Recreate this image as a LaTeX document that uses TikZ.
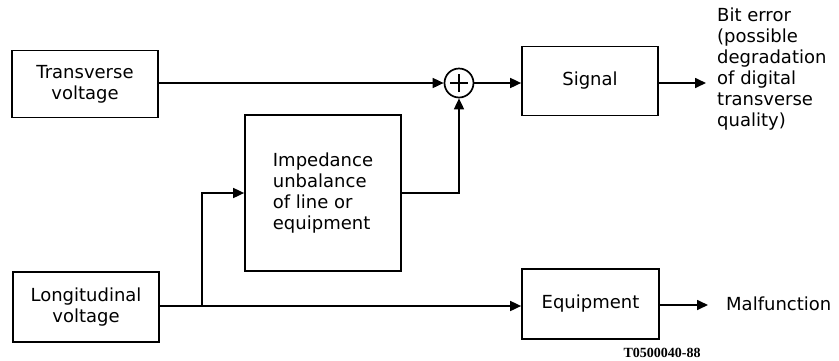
\documentclass[tikz,border=0pt]{standalone}
\usepackage{fontspec}
\setmainfont{DejaVu Sans}
\newfontfamily\labfont{Liberation Serif}
\usetikzlibrary{arrows.meta}
\begin{document}
\begin{tikzpicture}[x=1pt,y=-1pt,
  every node/.style={font=\fontsize{18}{21}\selectfont},
  blk/.style={draw,line width=1.7pt,inner sep=0pt,align=center},
  conn/.style={line width=1.7pt,-{Triangle[length=11pt,width=10pt]}},
  plain/.style={line width=1.7pt}]
\useasboundingbox (0,0) rectangle (839,360);
\node[blk,minimum width=146pt,minimum height=67pt] (tv) at (85,84) {Transverse\\voltage};
\node[blk,minimum width=156pt,minimum height=156pt,align=left] (imp) at (323,193) {Impedance\\unbalance\\of line or\\equipment};
\node[blk,minimum width=146pt,minimum height=70pt] (lv) at (86,307) {Longitudinal\\voltage};
\node[draw,circle,line width=1.7pt,minimum size=29pt,inner sep=0pt] (sum) at (459,83) {};
\draw[plain] ([xshift=-9pt]sum.center) -- ([xshift=9pt]sum.center)
  ([yshift=-9pt]sum.center) -- ([yshift=9pt]sum.center);
\node[blk,minimum width=136pt,minimum height=69pt] (sig) at (590,81) {Signal};
\node[blk,minimum width=137pt,minimum height=70pt] (eq) at (590.5,304) {Equipment};
\node[anchor=north west,align=left,inner sep=0pt] (bit) at (717,8) {Bit error\\(possible\\degradation\\of digital\\transverse\\quality)};
\node[anchor=west,inner sep=0pt] (mal) at (726,304) {Malfunction};
\node[font=\labfont\bfseries\fontsize{14}{14}\selectfont,inner sep=0pt,anchor=south] (lab) at (662,358) {T0500040-88};
\coordinate (sigout) at (706,83);
\coordinate (eqout) at (708,305);
\coordinate (br) at (202,306);
\draw[conn] (tv.east |- sum.west) -- (sum.west);
\draw[conn] (sum.east) -- (sum.east -| sig.west);
\draw[conn] (sum.east -| sig.east) -- (sigout);
\draw[conn] (imp.east) -- (imp.east -| sum.south) -- (sum.south);
\draw[conn] (lv.east |- br) -- (br -| eq.west);
\draw[conn] (br) |- (imp.west);
\draw[conn] (eq.east |- eqout) -- (eqout);
\end{tikzpicture}
\end{document}
